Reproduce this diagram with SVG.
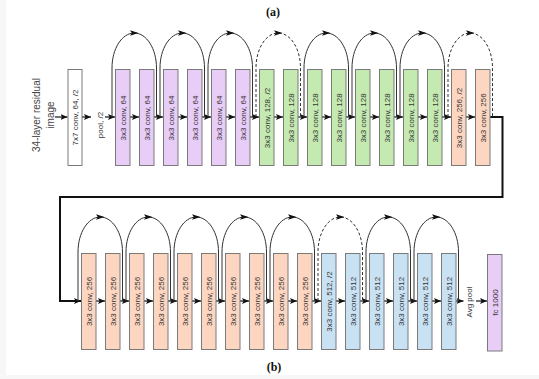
<svg xmlns="http://www.w3.org/2000/svg" xmlns:xlink="http://www.w3.org/1999/xlink" width="539" height="379" viewBox="0 0 539 379">
<style>
.box{stroke:#7a7a7a;stroke-width:1}
.w{fill:#ffffff}
.p{fill:#e8cdf7}
.g{fill:#c4e9b1}
.o{fill:#fcd6c1}
.b{fill:#c8e2f3}
.t{font-family:"Liberation Sans",Arial,sans-serif;font-size:8px;fill:#333;text-anchor:middle}
.lbl{font-family:"Liberation Sans",Arial,sans-serif;font-size:10px;fill:#444;text-anchor:middle}
.cap{font-family:"Liberation Serif","Times New Roman",serif;font-size:12px;font-weight:bold;fill:#111;text-anchor:middle}
.c{fill:none;stroke:#111;stroke-width:1.2}
.thick{fill:none;stroke:#111;stroke-width:2}
.arc{fill:none;stroke:#333;stroke-width:1}
.dash{stroke-dasharray:3 2}
</style>
<defs>
<marker id="ah" markerWidth="8" markerHeight="6" refX="7" refY="3" orient="auto" markerUnits="userSpaceOnUse">
<path d="M0,0 L7,3 L0,6 L1.5,3 z" fill="#111"/>
</marker>
<path id="ahead" d="M18,-86.7 L26.5,-84 L18,-81.3 L19.8,-84 z" fill="#111"/>
<g id="arc">
<path class="arc" d="M0,0 V-49 C0,-68.3 9.96,-84 22.25,-84 C34.54,-84 44.5,-68.3 44.5,-49 V0"/>
<use xlink:href="#ahead"/>
</g>
<g id="arcd">
<path class="arc dash" d="M0,0 V-49 C0,-68.3 9.96,-84 22.25,-84 C34.54,-84 44.5,-68.3 44.5,-49 V0"/>
<use xlink:href="#ahead"/>
</g>
</defs>
<rect x="0" y="0" width="539" height="379" fill="#f7f7f7"/>
<rect x="6" y="0" width="533" height="375" fill="#ffffff"/>
<text class="cap" x="273" y="15.5">(a)</text>
<text class="cap" x="274" y="370.5">(b)</text>
<g id="input-label">
<text class="lbl" transform="translate(40,115) rotate(-90)">34-layer residual</text>
<text class="lbl" transform="translate(53.5,115) rotate(-90)">image</text>
</g>
<g id="pool-label"><text class="t" transform="translate(102.5,125) rotate(-90)">pool, /2</text></g>
<g id="avgpool-label"><text class="t" transform="translate(472.3,302) rotate(-90)">Avg pool</text></g>
<g id="connectors">
<path class="c" d="M55,117 H67.5" marker-end="url(#ah)"/>
<path class="c" d="M82,117 H91" marker-end="url(#ah)"/>
<path class="c" d="M105,117 H115" marker-end="url(#ah)"/>
<path class="c" d="M130,117 H139" marker-end="url(#ah)"/>
<path class="c" d="M154,117 H163" marker-end="url(#ah)"/>
<path class="c" d="M178,117 H187" marker-end="url(#ah)"/>
<path class="c" d="M202,117 H211" marker-end="url(#ah)"/>
<path class="c" d="M226,117 H235" marker-end="url(#ah)"/>
<path class="c" d="M250,117 H259" marker-end="url(#ah)"/>
<path class="c" d="M274,117 H283" marker-end="url(#ah)"/>
<path class="c" d="M298,117 H307" marker-end="url(#ah)"/>
<path class="c" d="M322,117 H331" marker-end="url(#ah)"/>
<path class="c" d="M346,117 H355" marker-end="url(#ah)"/>
<path class="c" d="M370,117 H379" marker-end="url(#ah)"/>
<path class="c" d="M394,117 H403" marker-end="url(#ah)"/>
<path class="c" d="M418,117 H427" marker-end="url(#ah)"/>
<path class="c" d="M442,117 H451" marker-end="url(#ah)"/>
<path class="c" d="M466,117 H475" marker-end="url(#ah)"/>
<path class="thick" d="M490,117 H502.5 V197 H60 V301 H81" marker-end="url(#ah)"/>
<path class="c" d="M96,301 H105" marker-end="url(#ah)"/>
<path class="c" d="M120,301 H129" marker-end="url(#ah)"/>
<path class="c" d="M144,301 H153" marker-end="url(#ah)"/>
<path class="c" d="M168,301 H177" marker-end="url(#ah)"/>
<path class="c" d="M192,301 H201" marker-end="url(#ah)"/>
<path class="c" d="M216,301 H225" marker-end="url(#ah)"/>
<path class="c" d="M240,301 H249" marker-end="url(#ah)"/>
<path class="c" d="M264,301 H273" marker-end="url(#ah)"/>
<path class="c" d="M288,301 H297" marker-end="url(#ah)"/>
<path class="c" d="M312,301 H321" marker-end="url(#ah)"/>
<path class="c" d="M336,301 H345" marker-end="url(#ah)"/>
<path class="c" d="M360,301 H369" marker-end="url(#ah)"/>
<path class="c" d="M384,301 H393" marker-end="url(#ah)"/>
<path class="c" d="M408,301 H417" marker-end="url(#ah)"/>
<path class="c" d="M432,301 H441" marker-end="url(#ah)"/>
<path class="c" d="M456,301 H463.5" marker-end="url(#ah)"/>
<path class="c" d="M476,301 H487" marker-end="url(#ah)"/>
<use xlink:href="#arc" x="112" y="117"/>
<use xlink:href="#arc" x="160" y="117"/>
<use xlink:href="#arc" x="208" y="117"/>
<use xlink:href="#arcd" x="256" y="117"/>
<use xlink:href="#arc" x="304" y="117"/>
<use xlink:href="#arc" x="352" y="117"/>
<use xlink:href="#arc" x="400" y="117"/>
<use xlink:href="#arcd" x="448" y="117"/>
<use xlink:href="#arc" x="78" y="301"/>
<use xlink:href="#arc" x="126" y="301"/>
<use xlink:href="#arc" x="174" y="301"/>
<use xlink:href="#arc" x="222" y="301"/>
<use xlink:href="#arc" x="270" y="301"/>
<use xlink:href="#arcd" x="318" y="301"/>
<use xlink:href="#arc" x="366" y="301"/>
<use xlink:href="#arc" x="414" y="301"/>
</g>
<g id="conv7"><rect class="box w" x="68" y="69.5" width="14" height="96"/><text class="t" transform="translate(77.8,117.5) rotate(-90)">7x7 conv, 64, /2</text></g>
<g id="a0"><rect class="box p" x="115.5" y="69.5" width="14.5" height="96"/><text class="t" transform="translate(125.6,118) rotate(-90)">3x3 conv, 64</text></g>
<g id="a1"><rect class="box p" x="139.5" y="69.5" width="14.5" height="96"/><text class="t" transform="translate(149.6,118) rotate(-90)">3x3 conv, 64</text></g>
<g id="a2"><rect class="box p" x="163.5" y="69.5" width="14.5" height="96"/><text class="t" transform="translate(173.6,118) rotate(-90)">3x3 conv, 64</text></g>
<g id="a3"><rect class="box p" x="187.5" y="69.5" width="14.5" height="96"/><text class="t" transform="translate(197.6,118) rotate(-90)">3x3 conv, 64</text></g>
<g id="a4"><rect class="box p" x="211.5" y="69.5" width="14.5" height="96"/><text class="t" transform="translate(221.6,118) rotate(-90)">3x3 conv, 64</text></g>
<g id="a5"><rect class="box p" x="235.5" y="69.5" width="14.5" height="96"/><text class="t" transform="translate(245.6,118) rotate(-90)">3x3 conv, 64</text></g>
<g id="a6"><rect class="box g" x="259.5" y="69.5" width="14.5" height="96"/><text class="t" transform="translate(269.6,118) rotate(-90)">3x3 conv, 128, /2</text></g>
<g id="a7"><rect class="box g" x="283.5" y="69.5" width="14.5" height="96"/><text class="t" transform="translate(293.6,118) rotate(-90)">3x3 conv, 128</text></g>
<g id="a8"><rect class="box g" x="307.5" y="69.5" width="14.5" height="96"/><text class="t" transform="translate(317.6,118) rotate(-90)">3x3 conv, 128</text></g>
<g id="a9"><rect class="box g" x="331.5" y="69.5" width="14.5" height="96"/><text class="t" transform="translate(341.6,118) rotate(-90)">3x3 conv, 128</text></g>
<g id="a10"><rect class="box g" x="355.5" y="69.5" width="14.5" height="96"/><text class="t" transform="translate(365.6,118) rotate(-90)">3x3 conv, 128</text></g>
<g id="a11"><rect class="box g" x="379.5" y="69.5" width="14.5" height="96"/><text class="t" transform="translate(389.6,118) rotate(-90)">3x3 conv, 128</text></g>
<g id="a12"><rect class="box g" x="403.5" y="69.5" width="14.5" height="96"/><text class="t" transform="translate(413.6,118) rotate(-90)">3x3 conv, 128</text></g>
<g id="a13"><rect class="box g" x="427.5" y="69.5" width="14.5" height="96"/><text class="t" transform="translate(437.6,118) rotate(-90)">3x3 conv, 128</text></g>
<g id="a14"><rect class="box o" x="451.5" y="69.5" width="14.5" height="96"/><text class="t" transform="translate(461.6,118) rotate(-90)">3x3 conv, 256, /2</text></g>
<g id="a15"><rect class="box o" x="475.5" y="69.5" width="14.5" height="96"/><text class="t" transform="translate(485.6,118) rotate(-90)">3x3 conv, 256</text></g>
<g id="b0"><rect class="box o" x="81.5" y="253.5" width="14.5" height="96"/><text class="t" transform="translate(91.6,301.5) rotate(-90)">3x3 conv, 256</text></g>
<g id="b1"><rect class="box o" x="105.5" y="253.5" width="14.5" height="96"/><text class="t" transform="translate(115.6,301.5) rotate(-90)">3x3 conv, 256</text></g>
<g id="b2"><rect class="box o" x="129.5" y="253.5" width="14.5" height="96"/><text class="t" transform="translate(139.6,301.5) rotate(-90)">3x3 conv, 256</text></g>
<g id="b3"><rect class="box o" x="153.5" y="253.5" width="14.5" height="96"/><text class="t" transform="translate(163.6,301.5) rotate(-90)">3x3 conv, 256</text></g>
<g id="b4"><rect class="box o" x="177.5" y="253.5" width="14.5" height="96"/><text class="t" transform="translate(187.6,301.5) rotate(-90)">3x3 conv, 256</text></g>
<g id="b5"><rect class="box o" x="201.5" y="253.5" width="14.5" height="96"/><text class="t" transform="translate(211.6,301.5) rotate(-90)">3x3 conv, 256</text></g>
<g id="b6"><rect class="box o" x="225.5" y="253.5" width="14.5" height="96"/><text class="t" transform="translate(235.6,301.5) rotate(-90)">3x3 conv, 256</text></g>
<g id="b7"><rect class="box o" x="249.5" y="253.5" width="14.5" height="96"/><text class="t" transform="translate(259.6,301.5) rotate(-90)">3x3 conv, 256</text></g>
<g id="b8"><rect class="box o" x="273.5" y="253.5" width="14.5" height="96"/><text class="t" transform="translate(283.6,301.5) rotate(-90)">3x3 conv, 256</text></g>
<g id="b9"><rect class="box o" x="297.5" y="253.5" width="14.5" height="96"/><text class="t" transform="translate(307.6,301.5) rotate(-90)">3x3 conv, 256</text></g>
<g id="b10"><rect class="box b" x="321.5" y="253.5" width="14.5" height="96"/><text class="t" transform="translate(331.6,301.5) rotate(-90)">3x3 conv, 512, /2</text></g>
<g id="b11"><rect class="box b" x="345.5" y="253.5" width="14.5" height="96"/><text class="t" transform="translate(355.6,301.5) rotate(-90)">3x3 conv, 512</text></g>
<g id="b12"><rect class="box b" x="369.5" y="253.5" width="14.5" height="96"/><text class="t" transform="translate(379.6,301.5) rotate(-90)">3x3 conv, 512</text></g>
<g id="b13"><rect class="box b" x="393.5" y="253.5" width="14.5" height="96"/><text class="t" transform="translate(403.6,301.5) rotate(-90)">3x3 conv, 512</text></g>
<g id="b14"><rect class="box b" x="417.5" y="253.5" width="14.5" height="96"/><text class="t" transform="translate(427.6,301.5) rotate(-90)">3x3 conv, 512</text></g>
<g id="b15"><rect class="box b" x="441.5" y="253.5" width="14.5" height="96"/><text class="t" transform="translate(451.6,301.5) rotate(-90)">3x3 conv, 512</text></g>
<g id="fc"><rect class="box p" x="487.5" y="254.5" width="14.5" height="96.5"/><text class="t" transform="translate(497.6,302.5) rotate(-90)">fc 1000</text></g>
</svg>
